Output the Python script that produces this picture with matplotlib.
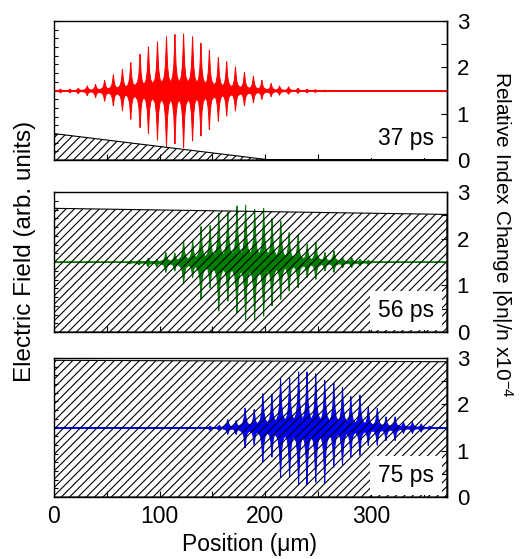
import numpy as np
import matplotlib
matplotlib.use("Agg")
import matplotlib.pyplot as plt
from matplotlib.ticker import MultipleLocator, FixedLocator, NullFormatter

plt.rcParams['font.family'] = ['Liberation Sans', 'DejaVu Sans']
plt.rcParams['mathtext.fontset'] = 'custom'
plt.rcParams['mathtext.rm'] = 'Liberation Sans'
plt.rcParams['mathtext.default'] = 'regular'
plt.rcParams['hatch.linewidth'] = 0.8
plt.rcParams['hatch.color'] = 'black'

# ---------------- data ----------------
times = ["37 ps", "56 ps", "75 ps"]
colors = ["#ff0000", "#007f00", "#0000ff"]
baseline = 1.5          # field zero level (in right-axis units)
x_max = 372
x_ticks = [0, 100, 200, 300]
right_ticks = [0, 1, 2, 3]

# spike positions (um) and upward / downward field excursions
red_pos = [5.7, 14.6, 22.5, 31.0, 38.9, 47.5, 55.7, 64.3, 72.2, 81.0, 88.9, 97.5,
           106.0, 114.0, 122.2, 130.7, 138.6, 146.6, 155.1, 163.0, 171.3, 179.8,
           188.3, 196.3, 205.1, 213.0, 221.6, 230.5, 239.0, 246.9, 255.8, 264.0, 272.0]
red_up = [0.04, 0.04, 0.06, 0.11, 0.14, 0.23, 0.35, 0.47, 0.61, 0.79, 0.95, 1.06,
          1.17, 1.22, 1.23, 1.17, 1.03, 0.88, 0.72, 0.63, 0.52, 0.40, 0.32, 0.23,
          0.16, 0.11, 0.09, 0.06, 0.04, 0.03, 0.02, 0.015, 0.01]
red_dn = [0.04, 0.04, 0.06, 0.10, 0.14, 0.22, 0.32, 0.43, 0.61, 0.79, 0.92, 1.06,
          1.21, 1.14, 1.22, 1.08, 0.97, 0.83, 0.65, 0.54, 0.43, 0.32, 0.25, 0.18,
          0.12, 0.09, 0.07, 0.05, 0.04, 0.03, 0.02, 0.015, 0.01]

green_pos = [71.5, 80.0, 88.6, 96.8, 105.4, 113.9, 122.2, 130.8, 138.7, 147.3,
             155.5, 164.1, 172.7, 180.9, 189.5, 198.0, 205.9, 214.2, 222.1, 230.6,
             239.2, 247.4, 256.0, 264.5, 272.8, 281.3, 289.2, 297.1]
green_up = [0.03, 0.05, 0.09, 0.07, 0.21, 0.20, 0.46, 0.48, 0.77, 0.79, 1.06, 1.07,
            1.21, 1.23, 1.14, 1.16, 0.94, 0.89, 0.64, 0.59, 0.39, 0.43, 0.21, 0.25,
            0.11, 0.11, 0.07, 0.05]
green_dn = [0.03, 0.05, 0.09, 0.09, 0.21, 0.18, 0.46, 0.32, 0.79, 0.55, 1.04, 0.83,
            1.08, 1.22, 1.22, 1.15, 0.93, 0.79, 0.61, 0.54, 0.32, 0.36, 0.18, 0.21,
            0.11, 0.11, 0.07, 0.05]

blue_pos = [138.5, 147.2, 156.0, 164.0, 171.9, 180.4, 189.0, 197.2, 205.8, 214.0,
            222.6, 231.1, 239.0, 247.3, 255.8, 264.4, 272.6, 280.5, 289.1, 297.0,
            305.5, 313.8, 322.4, 330.3, 338.8, 347.1, 355.0]
blue_up = [0.02, 0.04, 0.06, 0.18, 0.16, 0.43, 0.40, 0.74, 0.73, 1.07, 1.07, 1.21,
           1.21, 1.17, 1.03, 0.97, 0.88, 0.68, 0.71, 0.45, 0.42, 0.24, 0.24, 0.13,
           0.13, 0.09, 0.04]
blue_dn = [0.02, 0.05, 0.06, 0.14, 0.14, 0.43, 0.37, 0.73, 0.63, 1.06, 1.05, 1.22,
           1.22, 1.17, 1.18, 0.85, 0.80, 0.62, 0.59, 0.38, 0.37, 0.27, 0.27, 0.12,
           0.12, 0.09, 0.04]

# relative index change profile (hatched region), x in um, y in 1e-4
idx_x = [[0, 205, 372], [0, 372], [0, 372]]
idx_y = [[0.57, 0.0, 0.0], [2.65, 2.52], [2.95, 2.92]]

spikes = [(red_pos, red_up, red_dn), (green_pos, green_up, green_dn),
          (blue_pos, blue_up, blue_dn)]


def outline(pos, up, dn):
    """Build a spiky upper/lower outline from the per-spike excursions."""
    dxs = [-2.2, -1.1, -0.45, 0.0, 0.45, 1.1, 2.2]
    fr = [0.25, 0.45, 0.75, 1.0, 0.75, 0.45, 0.25]
    xs, us, ds = [0.0], [0.0], [0.0]
    n = len(pos)
    for i in range(n):
        if i == 0:
            xs.append(pos[0] - 4.2); us.append(0.0); ds.append(0.0)
        else:
            xm = 0.5 * (pos[i - 1] + pos[i])
            xs.append(xm)
            us.append(0.15 * max(up[i - 1], up[i]))
            ds.append(0.15 * max(dn[i - 1], dn[i]))
        for dx, f in zip(dxs, fr):
            xs.append(pos[i] + dx); us.append(f * up[i]); ds.append(f * dn[i])
    xs.append(pos[-1] + 4.2); us.append(0.0); ds.append(0.0)
    xs.append(x_max); us.append(0.0); ds.append(0.0)
    return np.array(xs), np.array(us), np.array(ds)


fig = plt.figure(figsize=(5.27, 5.59), dpi=100)
W, H = 527.0, 559.0
left_px, right_px = 54, 447
panels_px = [(21, 160), (192, 332), (358, 497)]

for k, (top, bot) in enumerate(panels_px):
    ax = fig.add_axes([left_px / W, 1 - bot / H, (right_px - left_px) / W, (bot - top) / H])
    ax.set_xlim(0, x_max)
    ax.set_ylim(0, 3)
    for s in ax.spines.values():
        s.set_linewidth(1.0)

    pos, up, dn = spikes[k]
    xs, us, ds = outline(pos, up, dn)
    ax.axhline(baseline, color=colors[k], lw=1.2, zorder=2)
    ax.fill_between(xs, baseline + us, baseline - ds, facecolor=colors[k],
                    edgecolor=colors[k], lw=0.7, zorder=2)

    ax.fill_between(idx_x[k], idx_y[k], 0, facecolor='none', edgecolor='black',
                    hatch='////', lw=0.8, zorder=3)

    ax.text(0.968, 0.11, times[k], transform=ax.transAxes, ha='right', va='baseline',
            fontsize=16.5, zorder=6,
            bbox=dict(boxstyle='square,pad=0.35', fc='white', ec='none'), clip_on=True)

    # left axis: unlabelled field ticks
    ax.yaxis.set_major_locator(FixedLocator([i * 3 / 16 for i in range(17)]))
    ax.yaxis.set_major_formatter(NullFormatter())
    ax.tick_params(axis='y', which='both', direction='in', left=True, right=False,
                   labelleft=False, length=3, width=0.8)

    # x axis
    ax.xaxis.set_major_locator(FixedLocator(x_ticks))
    ax.xaxis.set_minor_locator(FixedLocator([50, 150, 250, 350]))
    ax.tick_params(axis='x', which='both', direction='in', top=False, bottom=True,
                   length=4, width=0.8, labelsize=16.5, pad=6)
    if k < 2:
        ax.tick_params(axis='x', labelbottom=False)

    # right axis: index change
    sec = ax.secondary_yaxis('right')
    sec.yaxis.set_major_locator(FixedLocator(right_ticks))
    sec.yaxis.set_minor_locator(FixedLocator([0.5, 1.5, 2.5]))
    sec.tick_params(which='both', direction='in', length=4, width=0.8,
                    labelsize=16, pad=7)
    sec.spines['right'].set_linewidth(1.0)

fig.text(25 / W, 1 - 251 / H, "Electric Field (arb. units)", rotation=90,
         ha='center', va='center', fontsize=17.5)
fig.text(502 / W, 1 - 234 / H, r"Relative Index Change |δn|/n x10$^{-4}$",
         rotation=-90, ha='center', va='center', fontsize=15)
fig.text(249.5 / W, 1 - 545 / H, "Position (μm)", ha='center', va='center',
         fontsize=16.5)

fig.savefig("out.png", dpi=100)
